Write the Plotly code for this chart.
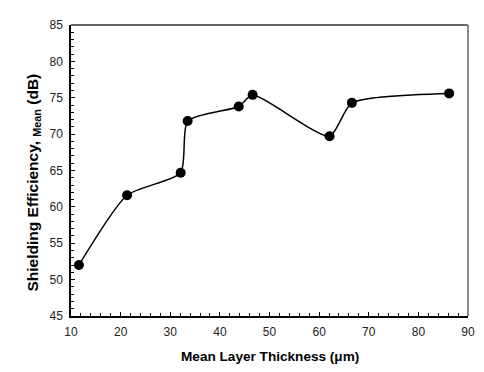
import plotly.graph_objects as go

# Mean layer thickness (µm) and mean shielding efficiency (dB)
thickness = [11.6, 21.3, 32.1, 33.5, 43.8, 46.6, 62.1, 66.6, 86.2]
shielding = [52.0, 61.6, 64.7, 71.8, 73.8, 75.4, 69.7, 74.3, 75.6]

x_range = [10, 90]
y_range = [45, 85]

fig = go.Figure()
fig.add_trace(go.Scatter(
    x=thickness, y=shielding,
    mode="lines+markers",
    line=dict(color="black", width=1.5, shape="spline", smoothing=0.6),
    marker=dict(color="black", size=10),
    showlegend=False,
))

tickfont = dict(family="Liberation Sans, Arial, sans-serif", size=12, color="#222")

fig.update_xaxes(
    range=x_range, dtick=10, tick0=10,
    showgrid=False, zeroline=False,
    showline=True, linecolor="black", linewidth=1.5,
    ticks="inside", ticklen=4, tickwidth=1, tickcolor="black",
    minor=dict(dtick=2, ticks="inside", ticklen=3, tickcolor="black", showgrid=False),
    tickfont=tickfont, ticklabelstandoff=4,
)
fig.update_yaxes(
    range=y_range, dtick=5, tick0=45,
    showgrid=False, zeroline=False,
    showline=True, linecolor="black", linewidth=1.5,
    ticks="inside", ticklen=4, tickwidth=1, tickcolor="black",
    minor=dict(dtick=1, ticks="inside", ticklen=3, tickcolor="black", showgrid=False),
    tickfont=tickfont, ticklabelstandoff=4,
)

# top and right frame lines
fig.add_shape(type="line", xref="paper", yref="paper", x0=0, x1=1, y0=1, y1=1,
              line=dict(color="#333", width=1.5))
fig.add_shape(type="line", xref="paper", yref="paper", x0=1, x1=1, y0=0, y1=1,
              line=dict(color="#888", width=2))

fig.add_annotation(
    text="<b>Mean Layer Thickness (μm)</b>",
    xref="paper", yref="paper", x=0.5, y=0, yshift=-40,
    showarrow=False, xanchor="center", yanchor="middle",
    font=dict(family="Liberation Sans, Arial, sans-serif", size=13.6, color="black"),
)
fig.add_annotation(
    text="<b>Shielding Efficiency, <sub>Mean</sub> (dB)</b>",
    xref="paper", yref="paper", x=0, y=0.5, xshift=-38, yshift=-12,
    textangle=-90,
    showarrow=False, xanchor="center", yanchor="middle",
    font=dict(family="Liberation Sans, Arial, sans-serif", size=15.5, color="black"),
)

fig.update_layout(
    width=484, height=372,
    margin=dict(l=71, r=9, t=25, b=56),
    paper_bgcolor="white", plot_bgcolor="white",
)

fig.write_html("out.html")
